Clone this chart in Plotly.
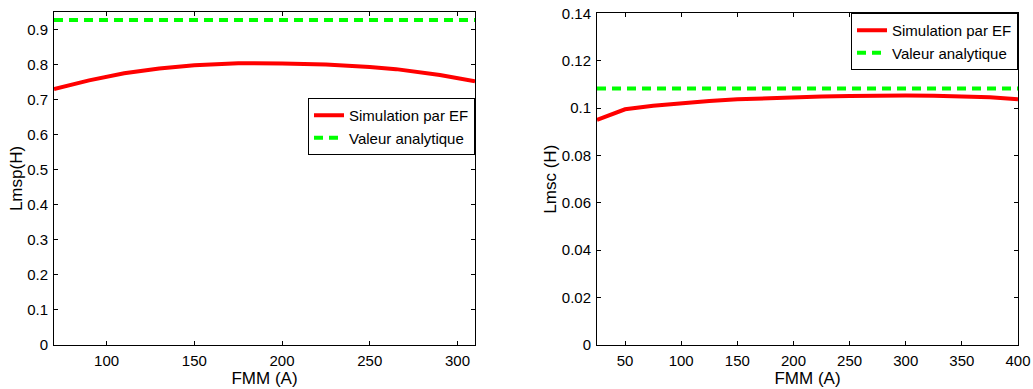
import plotly.graph_objects as go
from plotly.subplots import make_subplots

# Left chart data
fmm_left = [70, 90, 110, 130, 150, 175, 200, 225, 250, 265, 290, 310]
lmsp_sim = [0.730, 0.755, 0.775, 0.789, 0.798, 0.804, 0.803, 0.800, 0.793, 0.787, 0.770, 0.752]
lmsp_ana = [0.927, 0.927]
fmm_left_ana = [70, 310]

# Right chart data
fmm_right = [25, 50, 75, 100, 125, 150, 175, 200, 225, 250, 275, 300, 325, 350, 375, 400]
lmsc_sim = [0.0950, 0.0995, 0.1010, 0.1022, 0.1030, 0.1037, 0.1042, 0.1047, 0.1049, 0.1051,
            0.1053, 0.1053, 0.1052, 0.1051, 0.1046, 0.1037]
lmsc_ana = [0.1083, 0.1083]
fmm_right_ana = [25, 400]

left_yticks = [0, 0.1, 0.2, 0.3, 0.4, 0.5, 0.6, 0.7, 0.8, 0.9]
left_ytext = ["0", "0.1", "0.2", "0.3", "0.4", "0.5", "0.6", "0.7", "0.8", "0.9"]
right_yticks = [0, 0.02, 0.04, 0.06, 0.08, 0.1, 0.12, 0.14]
right_ytext = ["0", "0.02", "0.04", "0.06", "0.08", "0.1", "0.12", "0.14"]

RED = "#ff0000"
GREEN = "#00ff00"
FONT = "Liberation Sans, Arial, sans-serif"

fig = make_subplots(rows=1, cols=2)

fig.add_trace(go.Scatter(x=fmm_left, y=lmsp_sim, mode="lines", name="Simulation par EF",
                         line=dict(color=RED, width=4), legend="legend"), row=1, col=1)
fig.add_trace(go.Scatter(x=fmm_left_ana, y=lmsp_ana, mode="lines", name="Valeur analytique",
                         line=dict(color=GREEN, width=4, dash="9px,6px"), legend="legend"), row=1, col=1)
fig.add_trace(go.Scatter(x=fmm_right, y=lmsc_sim, mode="lines", name="Simulation par EF",
                         line=dict(color=RED, width=4), legend="legend2"), row=1, col=2)
fig.add_trace(go.Scatter(x=fmm_right_ana, y=lmsc_ana, mode="lines", name="Valeur analytique",
                         line=dict(color=GREEN, width=4, dash="9px,6px"), legend="legend2"), row=1, col=2)

axis_common = dict(showline=True, linecolor="black", linewidth=1, mirror="ticks",
                   ticks="inside", ticklen=4, tickcolor="black", showgrid=False, zeroline=False,
                   automargin=False, ticklabelstandoff=2,
                   tickfont=dict(family=FONT, size=15, color="black"))

fig.update_xaxes(**axis_common)
fig.update_yaxes(**axis_common)

TITLE_FONT = dict(family=FONT, size=17, color="black")

fig.update_layout(
    template="none",
    width=1033, height=389,
    margin=dict(l=0, r=0, t=0, b=0),
    paper_bgcolor="white", plot_bgcolor="white",
    font=dict(family=FONT, size=15, color="black"),
    xaxis=dict(domain=[54/1033, 475/1033], range=[70, 310], tickvals=[100, 150, 200, 250, 300],
               title=dict(text="FMM (A)", font=TITLE_FONT, standoff=0)),
    yaxis=dict(domain=[(389-345)/389, (389-12)/389], range=[0, 0.95], tickvals=left_yticks,
               ticktext=left_ytext, title=dict(text="Lmsp(H)", font=TITLE_FONT, standoff=0)),
    xaxis2=dict(domain=[597/1033, 1018/1033], range=[25, 400],
                tickvals=[50, 100, 150, 200, 250, 300, 350, 400],
                title=dict(text="FMM (A)", font=TITLE_FONT, standoff=0)),
    yaxis2=dict(domain=[(389-345)/389, (389-13.3)/389], range=[0, 0.14], tickvals=right_yticks,
                ticktext=right_ytext, title=dict(text="Lmsc (H)", font=TITLE_FONT, standoff=0)),
    legend=dict(x=475/1033, xanchor="right", y=(389-98)/389, yanchor="top",
                bgcolor="white", bordercolor="black", borderwidth=1, itemwidth=30,
                font=dict(family=FONT, size=15), tracegroupgap=0),
    legend2=dict(x=1018/1033, xanchor="right", y=(389-13)/389, yanchor="top",
                 bgcolor="white", bordercolor="black", borderwidth=1, itemwidth=30,
                 font=dict(family=FONT, size=15), tracegroupgap=0),
)

fig.write_html("out.html",
               config={"displayModeBar": False},
               post_script="document.body.style.margin='0';document.body.style.overflow='hidden';")
